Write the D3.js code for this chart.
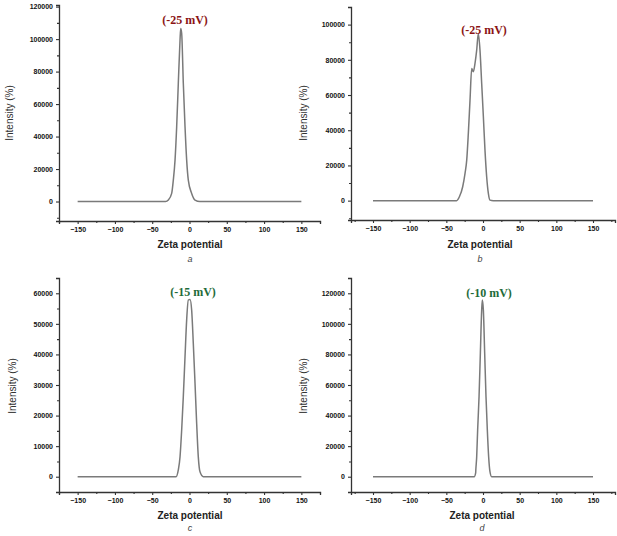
<!DOCTYPE html>
<html><head><meta charset="utf-8">
<script src="https://cdn.jsdelivr.net/npm/d3@7/dist/d3.min.js"></script>
<style>
body{margin:0;background:#fff;}
svg{display:block;}
.tick text{font-family:"Liberation Sans",Arial,sans-serif;font-size:7px;font-weight:bold;fill:#111;}
</style></head>
<body>
<svg id="chart" width="617" height="536"></svg>
<script>
// ---- data ----
const zetaA = [-150,-100,-50,-32,-28.4,-23.9,-21.7,-19.4,-17.2,-15.0,-12.7,-11.8,-10.5,-8.3,-6.0,-3.8,-1.6,2.9,7.4,14,50,100,150];
const intA  = [0,0,0,0,900,5000,13200,25500,46000,72800,99500,106500,103600,72800,46000,25500,13200,5000,900,0,0,0,0];

const zetaB = [-150,-100,-50,-36,-32.2,-27.7,-24.5,-22.2,-20,-17.7,-15.4,-13.2,-10.9,-8.6,-6.4,-4.1,-1.8,0.5,2.7,5.0,7.3,9.5,14,50,100,150];
const intB  = [0,0,0,0,2200,7900,15500,23000,38200,57100,75100,73200,78000,85500,95000,85500,66600,47700,28700,13600,4100,300,0,0,0,0];

const zetaC = [-150,-100,-50,-18,-15.0,-12.7,-10.5,-8.3,-6.0,-3.8,-1.6,0.7,2.9,5.1,7.4,9.6,11.8,14.1,18.5,50,100,150];
const intC  = [0,0,0,0,2200,6500,15300,26200,39300,51300,57800,58000,54500,43600,30600,17500,6500,1600,0,0,0,0];

const zetaD = [-150,-100,-50,-12,-10,-9.8,-8.6,-7.3,-5.4,-3.6,-1.8,-0.9,0.5,2.3,4.1,5.9,7.7,9.5,11.8,50,100,150];
const intD  = [0,0,0,0,2500,4400,13100,30600,52300,80700,109000,115600,109000,80700,52300,30600,13100,3300,0,0,0,0];

const peakLabels = ["(-25 mV)","(-25 mV)","(-15 mV)","(-10 mV)"];
const captions = ["a","b","c","d"];
const xTicks = [-150,-100,-50,0,50,100,150];
const yTicksA = [0,20000,40000,60000,80000,100000,120000];
const yTicksB = [0,20000,40000,60000,80000,100000];
const yTicksC = [0,10000,20000,30000,40000,50000,60000];
const yTicksD = [0,20000,40000,60000,80000,100000,120000];

// ---- layout ----
const panels = [
  {x:zetaA, y:intA, xd:[-175,175], xr:[59,320], yd:[-12000,121000], yr:[221,5], yt:yTicksA, ystep:10000,
   label:peakLabels[0], lc:"#8b1414", lx:185, ly:24, cap:captions[0], capy:262, ylx:13, yly:113, xtx:190, xty:248},
  {x:zetaB, y:intB, xd:[-180,180], xr:[351,615], yd:[-11000,110000], yr:[220,7], yt:yTicksB, ystep:10000,
   label:peakLabels[1], lc:"#8b1414", lx:484, ly:34, cap:captions[1], capy:262, ylx:307, yly:113, xtx:480, xty:248},
  {x:zetaC, y:intC, xd:[-175,175], xr:[59,320], yd:[-5000,65000], yr:[492,278], yt:yTicksC, ystep:5000,
   label:peakLabels[2], lc:"#1f6b3a", lx:193, ly:296, cap:captions[2], capy:531, ylx:16, yly:386, xtx:190, xty:519},
  {x:zetaD, y:intD, xd:[-180,180], xr:[351,615], yd:[-10000,130000], yr:[492,278], yt:yTicksD, ystep:10000,
   label:peakLabels[3], lc:"#1f6b3a", lx:489, ly:297, cap:captions[3], capy:531, ylx:307, yly:386, xtx:482, xty:519}
];

const svg = d3.select("#chart");
svg.append("rect").attr("width",617).attr("height",536).attr("fill","#fff");

panels.forEach(p => {
  const xs = d3.scaleLinear().domain(p.xd).range(p.xr);
  const ys = d3.scaleLinear().domain(p.yd).range(p.yr);
  const g = svg.append("g");
  const axisCol = "#333";

  // x axis
  const xMinor = d3.range(-175, 176, 25).filter(v => v >= p.xd[0] && v <= p.xd[1] && !xTicks.includes(v));
  const xa = g.append("g").attr("transform",`translate(0,${p.yr[0]})`)
    .call(d3.axisBottom(xs).tickValues(xTicks).tickSize(3).tickPadding(3).tickFormat(d3.format("d")));
  xa.append("g").call(d3.axisBottom(xs).tickValues(xMinor).tickSize(2).tickFormat(""))
    .select(".domain").remove();
  xa.selectAll("path.domain").attr("stroke",axisCol).attr("stroke-width",1.3);
  xa.selectAll("line").attr("stroke",axisCol).attr("stroke-width",1.1);
  xa.selectAll(".tick text").attr("font-size",7).attr("dy","0.75em");

  // y axis
  const yMinor = d3.range(Math.ceil(p.yd[0]/p.ystep)*p.ystep, p.yd[1]+1, p.ystep).filter(v => !p.yt.includes(v));
  const ya = g.append("g").attr("transform",`translate(${p.xr[0]},0)`)
    .call(d3.axisLeft(ys).tickValues(p.yt).tickSize(3).tickPadding(3).tickFormat(d3.format("d")));
  ya.append("g").call(d3.axisLeft(ys).tickValues(yMinor).tickSize(2).tickFormat(""))
    .select(".domain").remove();
  ya.selectAll("path.domain").attr("stroke",axisCol).attr("stroke-width",1.3);
  ya.selectAll("line").attr("stroke",axisCol).attr("stroke-width",1.1);

  // data line
  const line = d3.line().x((d,i)=>xs(p.x[i])).y((d,i)=>ys(p.y[i])).curve(d3.curveMonotoneX);
  g.append("path").datum(p.y).attr("d",line).attr("fill","none")
    .attr("stroke","#7a7a7a").attr("stroke-width",1.5);

  // titles
  g.append("text").attr("x",p.xtx).attr("y",p.xty).attr("text-anchor","middle")
    .attr("font-family","Liberation Sans, Arial, sans-serif").attr("font-size",10).attr("font-weight",600)
    .attr("fill","#222").text("Zeta potential");
  g.append("text").attr("transform",`translate(${p.ylx},${p.yly}) rotate(-90)`).attr("text-anchor","middle")
    .attr("font-family","Liberation Sans, Arial, sans-serif").attr("font-size",10)
    .attr("fill","#333").text("Intensity (%)");
  g.append("text").attr("x",p.lx).attr("y",p.ly).attr("text-anchor","middle")
    .attr("font-family","Liberation Serif, Times New Roman, serif").attr("font-size",12).attr("font-weight","bold")
    .attr("fill",p.lc).text(p.label);
  g.append("text").attr("x",p.xtx).attr("y",p.capy).attr("text-anchor","middle")
    .attr("font-family","Liberation Sans, Arial, sans-serif").attr("font-size",9).attr("font-style","italic")
    .attr("fill","#444").text(p.cap);
});
</script>
</body></html>
